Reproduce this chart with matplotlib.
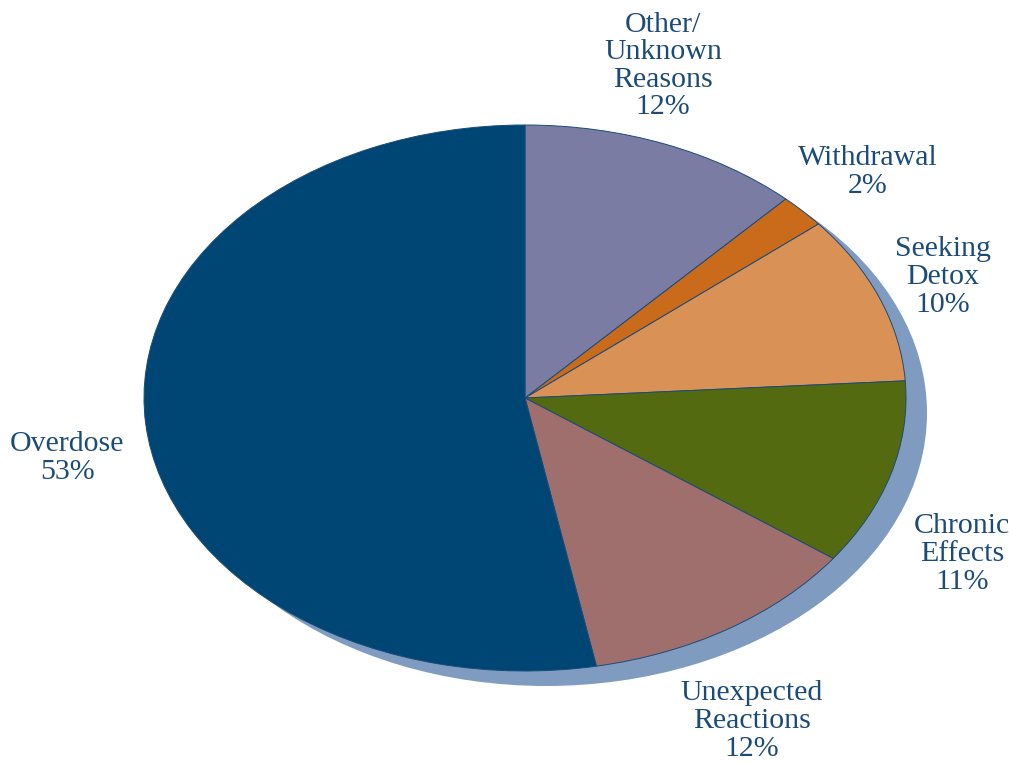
import matplotlib.pyplot as plt
from matplotlib.patches import Ellipse

categories = ["Other/\nUnknown\nReasons", "Withdrawal", "Seeking\nDetox",
              "Chronic\nEffects", "Unexpected\nReactions", "Overdose"]
shares = [12, 2, 10, 11, 12, 53]
colors = ["#7b7ca3", "#c96b1b", "#d99156", "#536a10", "#9e6f6c", "#004675"]

# label centres in figure pixels (from top-left)
label_pos = [(663, 66), (868, 172), (943, 277), (962, 554), (752, 721), (67, 458)]

W, H = 1015, 763
cx, cy = 525, 398      # pie centre, pixels from top-left
rx, ry = 381, 273      # ellipse radii in pixels
text_color = "#1b4b78"

fig = plt.figure(figsize=(W / 100, H / 100), dpi=100)
ax = fig.add_axes([0, 0, 1, 1])

# shadow behind the pie
shadow = Ellipse((21 / rx, -15 / ry), 2.0, 2.0, facecolor="#7f9cc0",
                 edgecolor="none", zorder=0)
ax.add_patch(shadow)

wedges, _ = ax.pie(shares, colors=colors, startangle=90, counterclock=False,
                   wedgeprops=dict(edgecolor="#1b4b78", linewidth=0.7))
for w in wedges:
    w.set_zorder(1)

ax.set_aspect("auto")
ax.set_xlim(-cx / rx, (W - cx) / rx)
ax.set_ylim(-(H - cy) / ry, cy / ry)
ax.axis("off")

for cat, val, (px, py) in zip(categories, shares, label_pos):
    fig.text(px / W, 1 - py / H, f"{cat}\n{val}%", ha="center", va="center",
             fontsize=21.5, family="Liberation Serif", color=text_color,
             linespacing=1.08)

fig.savefig("out.png", dpi=100)
